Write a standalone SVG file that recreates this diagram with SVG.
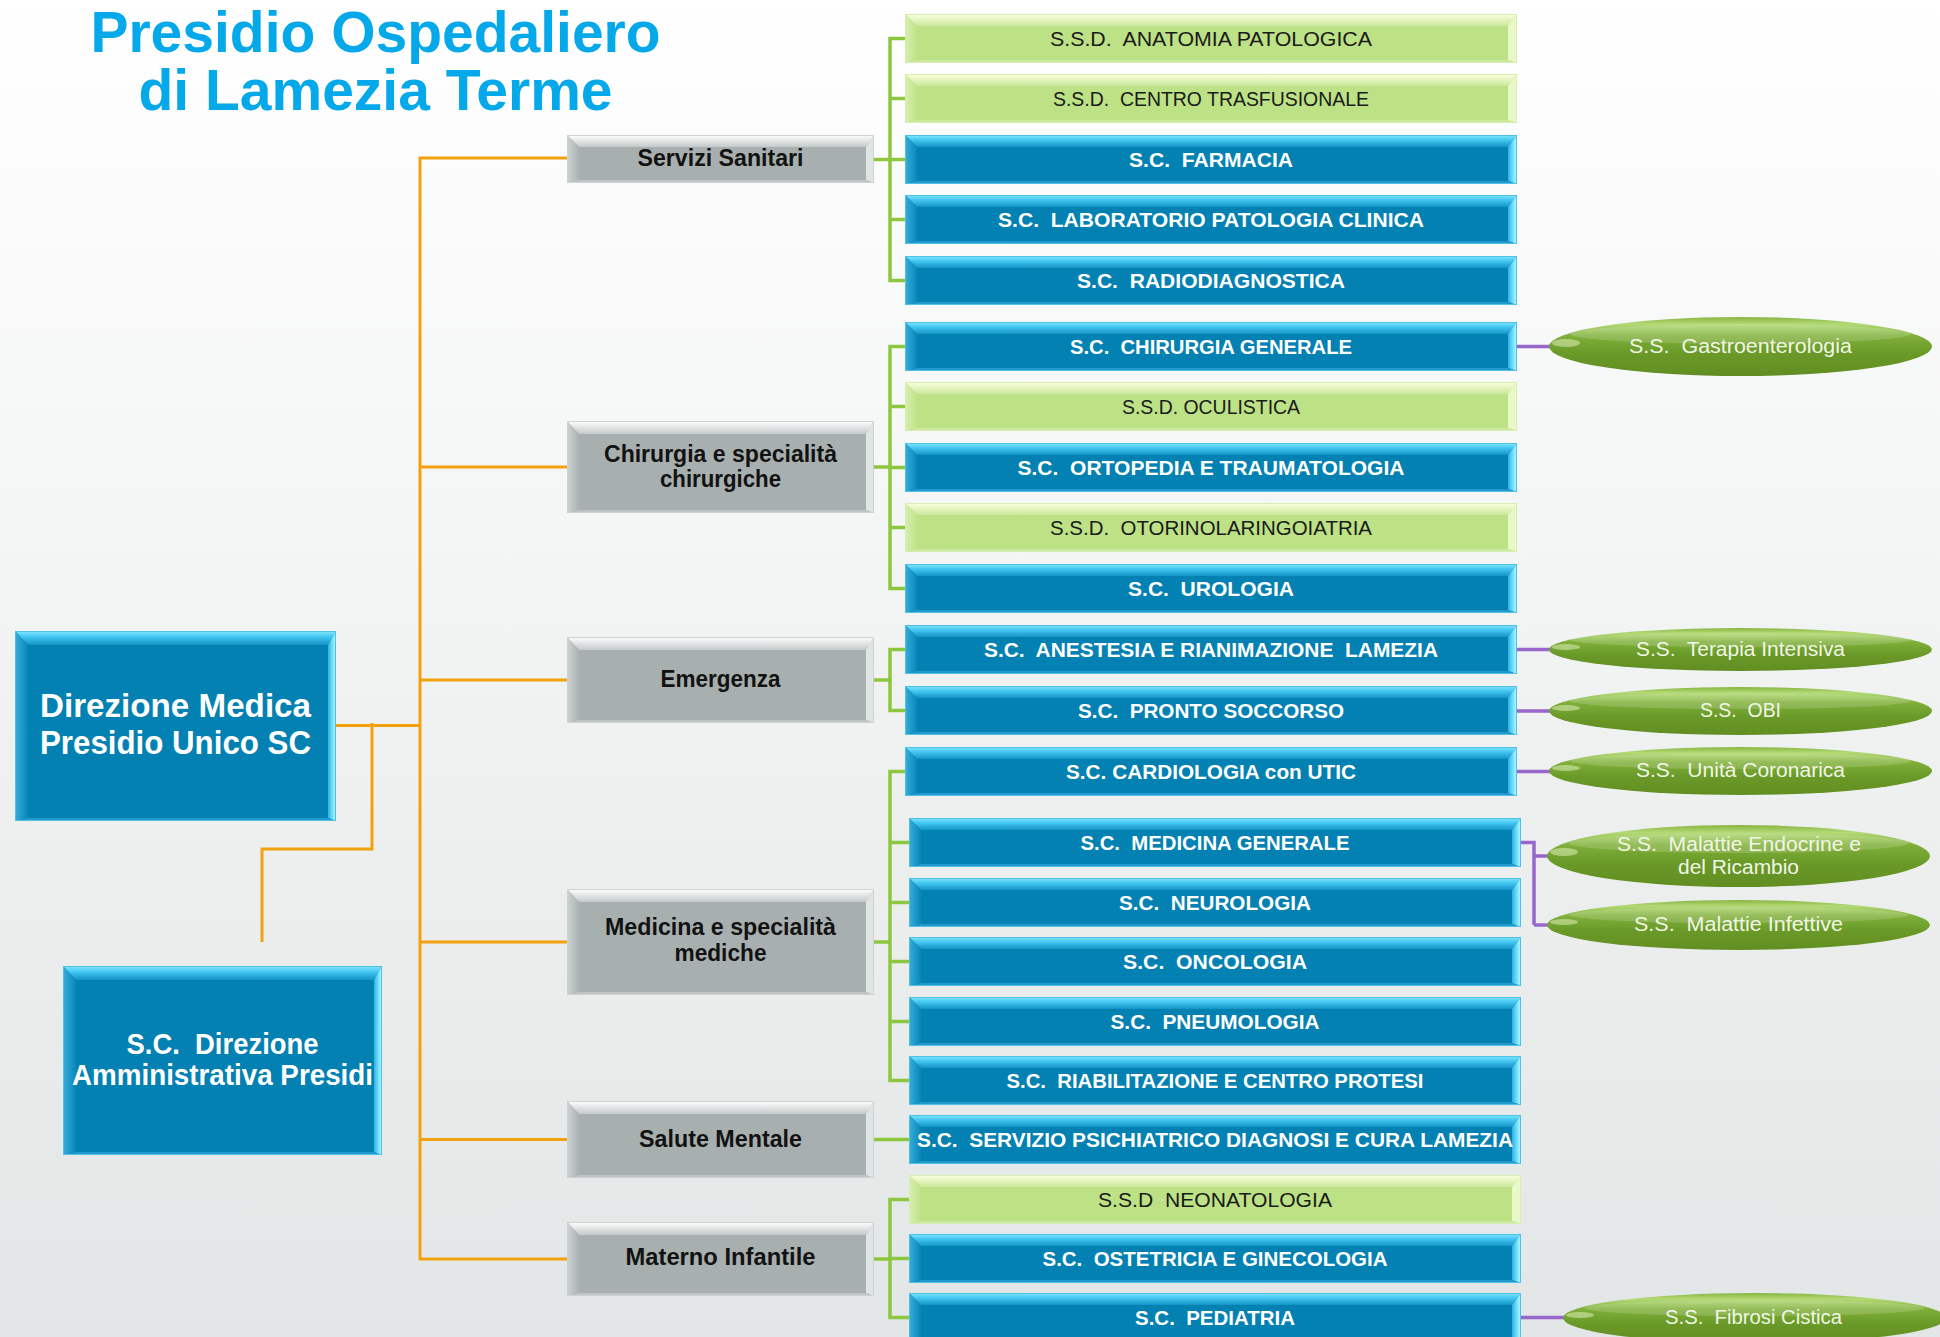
<svg xmlns="http://www.w3.org/2000/svg" xmlns:xlink="http://www.w3.org/1999/xlink" width="1940" height="1337" viewBox="0 0 1940 1337">
<style>
.t{font-family:"Liberation Sans",Arial,sans-serif;text-anchor:middle}
.title{font-size:57px;font-weight:bold;fill:#05a9ea}
.cb{font-size:21px;font-weight:bold;fill:#ffffff}
.cg{font-size:21px;font-weight:normal;fill:#1a1a1a}
.gt{font-size:23px;font-weight:bold;fill:#121212}
.bt{font-size:33px;font-weight:bold;fill:#ffffff}
.at{font-size:30px;font-weight:bold;fill:#ffffff}
.et{font-size:20px;fill:#f1f6e6}
.or{stroke:#f2a20f;stroke-width:3;fill:none}
.gr{stroke:#8dc63f;stroke-width:3.5;fill:none}
.pu{stroke:#9966cc;stroke-width:3.5;fill:none}
.ell{fill:url(#gEll)}
.gloss{fill:#ffffff;opacity:0.16}
.glint{fill:#f4ffd8;opacity:0.45}
</style>
<defs>
<linearGradient id="bg" x1="0" y1="0" x2="0" y2="1"><stop offset="0" stop-color="#ffffff"/><stop offset="1" stop-color="#e3e6e6"/></linearGradient>
<linearGradient id="blT" x1="0" y1="0" x2="0" y2="1"><stop offset="0" stop-color="#86e8ff"/><stop offset="0.4" stop-color="#45c8f2"/><stop offset="1" stop-color="#1394c6"/></linearGradient>
<linearGradient id="blL" x1="0" y1="0" x2="1" y2="0"><stop offset="0" stop-color="#35aedb"/><stop offset="1" stop-color="#0b86b8"/></linearGradient>
<linearGradient id="blR" x1="0" y1="0" x2="1" y2="0"><stop offset="0" stop-color="#2cb2e2"/><stop offset="0.6" stop-color="#7ae3ff"/><stop offset="1" stop-color="#c8f6ff"/></linearGradient>
<linearGradient id="grT" x1="0" y1="0" x2="0" y2="1"><stop offset="0" stop-color="#ffffff"/><stop offset="1" stop-color="#c3c9c9"/></linearGradient>
<linearGradient id="grL" x1="0" y1="0" x2="1" y2="0"><stop offset="0" stop-color="#cdd2d2"/><stop offset="1" stop-color="#abb2b2"/></linearGradient>
<linearGradient id="gnT" x1="0" y1="0" x2="0" y2="1"><stop offset="0" stop-color="#fbffe0"/><stop offset="1" stop-color="#cce89b"/></linearGradient>
<linearGradient id="gnL" x1="0" y1="0" x2="1" y2="0"><stop offset="0" stop-color="#d8efb0"/><stop offset="1" stop-color="#c0e289"/></linearGradient>
<linearGradient id="gEll" x1="0" y1="0" x2="0" y2="1"><stop offset="0" stop-color="#86b43f"/><stop offset="0.12" stop-color="#b3da76"/><stop offset="0.32" stop-color="#80b03a"/><stop offset="0.6" stop-color="#6a9a28"/><stop offset="1" stop-color="#618e22"/></linearGradient>
<symbol id="bBlue" viewBox="0 0 612 49" overflow="visible">
<rect width="612" height="49" fill="#0381b2"/>
<polygon points="0,0 612,0 603,12 12,12" fill="url(#blT)"/>
<polygon points="0,0 12,12 12,46 0,49" fill="url(#blL)"/>
<polygon points="612,0 612,49 603,46 603,12" fill="url(#blR)"/>
<polygon points="0,49 12,46 603,46 612,49" fill="#239acb"/>
<rect x="0.5" y="0.5" width="611" height="48" fill="none" stroke="#4fc0e8" stroke-width="1"/>
</symbol>
<symbol id="bGreen" viewBox="0 0 612 49" overflow="visible">
<rect width="612" height="49" fill="#bde185"/>
<polygon points="0,0 612,0 603,12 12,12" fill="url(#gnT)"/>
<polygon points="0,0 12,12 12,46 0,49" fill="url(#gnL)"/>
<polygon points="612,0 612,49 603,46 603,12" fill="#e8f8c8"/>
<polygon points="0,49 12,46 603,46 612,49" fill="#cde8a0"/>
<rect x="0.5" y="0.5" width="611" height="48" fill="none" stroke="#d6eeae" stroke-width="1"/>
</symbol>
</defs>
<rect width="1940" height="1337" fill="url(#bg)"/>

<g id="title">
<text class="t title"><tspan x="375.5" y="52">Presidio Ospedaliero</tspan><tspan x="375.5" y="110">di Lamezia Terme</tspan></text>
</g>

<g id="connectors">
<path class="or" d="M420 158V1259M418.5 158H567M420 467H567M420 680H567M420 942H567M420 1139.5H567M418.5 1259H567"/>
<path class="or" stroke-width="4" d="M336 725.5H420"/>
<path class="or" d="M372 723V849H262V942"/>
<path class="gr" d="M874 159.5H890M890 36.8V282.2M888.3 38.5H905M890 98.5H905M890 159.5H905M890 219.5H905M888.3 280.5H905"/>
<path class="gr" d="M874 467H890M890 344.8V590.2M888.3 346.5H905M890 406.5H905M890 467.5H905M890 527.5H905M888.3 588.5H905"/>
<path class="gr" d="M874 680H890M890 647.8V712.2M888.3 649.5H905M888.3 710.5H905"/>
<path class="gr" d="M874 942H890M890 769.8V1082.2M888.3 771.5H905M890 842.5H909M890 902.5H909M890 961.5H909M890 1021.5H909M888.3 1080.5H909"/>
<path class="gr" d="M874 1139.5H909"/>
<path class="gr" d="M874 1259H890M890 1197.8V1319.2M888.3 1199.5H909M890 1258.5H909M888.3 1317.5H909"/>
<path class="pu" d="M1517 346.5H1552M1517 649.5H1552M1517 711H1552M1517 771.5H1552M1521 842.5H1534V925M1534 856H1550M1534 925H1550M1521 1317.5H1566"/>
</g>

<g id="n-direzione-medica" transform="translate(15,631)">
<rect width="321" height="190" fill="#0381b2"/>
<polygon points="0,0 321,0 313,14 13,14" fill="url(#blT)"/>
<polygon points="0,0 13,14 13,187 0,190" fill="url(#blL)"/>
<polygon points="321,0 321,190 313,187 313,14" fill="url(#blR)"/>
<polygon points="0,190 13,187 313,187 321,190" fill="#239acb"/>
<rect x="0.5" y="0.5" width="320" height="189" fill="none" stroke="#4fc0e8"/>
<text class="t bt" x="160.5" y="86" textLength="271" lengthAdjust="spacingAndGlyphs">Direzione Medica</text>
<text class="t bt" x="160.5" y="123" textLength="271" lengthAdjust="spacingAndGlyphs">Presidio Unico SC</text>
</g>

<g id="n-direzione-amministrativa" transform="translate(63,966)">
<rect width="319" height="189" fill="#0381b2"/>
<polygon points="0,0 319,0 311,14 13,14" fill="url(#blT)"/>
<polygon points="0,0 13,14 13,186 0,189" fill="url(#blL)"/>
<polygon points="319,0 319,189 311,186 311,14" fill="url(#blR)"/>
<polygon points="0,189 13,186 311,186 319,189" fill="#239acb"/>
<rect x="0.5" y="0.5" width="318" height="188" fill="none" stroke="#4fc0e8"/>
<text class="t at" x="159.5" y="88" textLength="192" lengthAdjust="spacingAndGlyphs">S.C.&#160; Direzione</text>
<text class="t at" x="159.5" y="119" textLength="301" lengthAdjust="spacingAndGlyphs">Amministrativa Presidi</text>
</g>

<g id="n-servizi-sanitari" transform="translate(567,135)">
<rect width="307" height="48" fill="#a8afaf"/>
<polygon points="0,0 307,0 299,12 12,12" fill="url(#grT)"/>
<polygon points="0,0 12,12 12,45 0,48" fill="url(#grL)"/>
<polygon points="307,0 307,48 299,45 299,12" fill="#dfe4e4"/>
<polygon points="0,48 12,45 299,45 307,48" fill="#bfc5c5"/>
<rect x="0.5" y="0.5" width="306" height="47" fill="none" stroke="#cdd2d2"/>
<text class="t gt" x="153.5" y="31" textLength="166" lengthAdjust="spacingAndGlyphs">Servizi Sanitari</text>
</g>

<g id="n-chirurgia" transform="translate(567,421)">
<rect width="307" height="92" fill="#a8afaf"/>
<polygon points="0,0 307,0 299,13 12,13" fill="url(#grT)"/>
<polygon points="0,0 12,13 12,89 0,92" fill="url(#grL)"/>
<polygon points="307,0 307,92 299,89 299,13" fill="#dfe4e4"/>
<polygon points="0,92 12,89 299,89 307,92" fill="#bfc5c5"/>
<rect x="0.5" y="0.5" width="306" height="91" fill="none" stroke="#cdd2d2"/>
<text class="t gt" x="153.5" y="41" textLength="233" lengthAdjust="spacingAndGlyphs">Chirurgia e specialità</text>
<text class="t gt" x="153.5" y="66" textLength="121" lengthAdjust="spacingAndGlyphs">chirurgiche</text>
</g>

<g id="n-emergenza" transform="translate(567,637)">
<rect width="307" height="86" fill="#a8afaf"/>
<polygon points="0,0 307,0 299,13 12,13" fill="url(#grT)"/>
<polygon points="0,0 12,13 12,83 0,86" fill="url(#grL)"/>
<polygon points="307,0 307,86 299,83 299,13" fill="#dfe4e4"/>
<polygon points="0,86 12,83 299,83 307,86" fill="#bfc5c5"/>
<rect x="0.5" y="0.5" width="306" height="85" fill="none" stroke="#cdd2d2"/>
<text class="t gt" x="153.5" y="50" textLength="120" lengthAdjust="spacingAndGlyphs">Emergenza</text>
</g>

<g id="n-medicina" transform="translate(567,889)">
<rect width="307" height="106" fill="#a8afaf"/>
<polygon points="0,0 307,0 299,13 12,13" fill="url(#grT)"/>
<polygon points="0,0 12,13 12,103 0,106" fill="url(#grL)"/>
<polygon points="307,0 307,106 299,103 299,13" fill="#dfe4e4"/>
<polygon points="0,106 12,103 299,103 307,106" fill="#bfc5c5"/>
<rect x="0.5" y="0.5" width="306" height="105" fill="none" stroke="#cdd2d2"/>
<text class="t gt" x="153.5" y="46" textLength="231" lengthAdjust="spacingAndGlyphs">Medicina e specialità</text>
<text class="t gt" x="153.5" y="72" textLength="92" lengthAdjust="spacingAndGlyphs">mediche</text>
</g>

<g id="n-salute-mentale" transform="translate(567,1101)">
<rect width="307" height="77" fill="#a8afaf"/>
<polygon points="0,0 307,0 299,13 12,13" fill="url(#grT)"/>
<polygon points="0,0 12,13 12,74 0,77" fill="url(#grL)"/>
<polygon points="307,0 307,77 299,74 299,13" fill="#dfe4e4"/>
<polygon points="0,77 12,74 299,74 307,77" fill="#bfc5c5"/>
<rect x="0.5" y="0.5" width="306" height="76" fill="none" stroke="#cdd2d2"/>
<text class="t gt" x="153.5" y="46" textLength="163" lengthAdjust="spacingAndGlyphs">Salute Mentale</text>
</g>

<g id="n-materno-infantile" transform="translate(567,1222)">
<rect width="307" height="74" fill="#a8afaf"/>
<polygon points="0,0 307,0 299,13 12,13" fill="url(#grT)"/>
<polygon points="0,0 12,13 12,71 0,74" fill="url(#grL)"/>
<polygon points="307,0 307,74 299,71 299,13" fill="#dfe4e4"/>
<polygon points="0,74 12,71 299,71 307,74" fill="#bfc5c5"/>
<rect x="0.5" y="0.5" width="306" height="73" fill="none" stroke="#cdd2d2"/>
<text class="t gt" x="153.5" y="43" textLength="190" lengthAdjust="spacingAndGlyphs">Materno Infantile</text>
</g>

<g id="n-anatomia"><use href="#bGreen" x="905" y="14" width="612" height="49"/><text class="t cg" x="1211" y="45.5" textLength="322" lengthAdjust="spacingAndGlyphs">S.S.D.&#160; ANATOMIA PATOLOGICA</text></g>
<g id="n-centro-trasf"><use href="#bGreen" x="905" y="74" width="612" height="49"/><text class="t cg" x="1211" y="105.5" textLength="316" lengthAdjust="spacingAndGlyphs">S.S.D.&#160; CENTRO TRASFUSIONALE</text></g>
<g id="n-farmacia"><use href="#bBlue" x="905" y="135" width="612" height="49"/><text class="t cb" x="1211" y="166.5" textLength="164" lengthAdjust="spacingAndGlyphs">S.C.&#160; FARMACIA</text></g>
<g id="n-laboratorio"><use href="#bBlue" x="905" y="195" width="612" height="49"/><text class="t cb" x="1211" y="226.5" textLength="426" lengthAdjust="spacingAndGlyphs">S.C.&#160; LABORATORIO PATOLOGIA CLINICA</text></g>
<g id="n-radiodiagnostica"><use href="#bBlue" x="905" y="256" width="612" height="49"/><text class="t cb" x="1211" y="287.5" textLength="268" lengthAdjust="spacingAndGlyphs">S.C.&#160; RADIODIAGNOSTICA</text></g>
<g id="n-chirurgia-generale"><use href="#bBlue" x="905" y="322" width="612" height="49"/><text class="t cb" x="1211" y="353.5" textLength="282" lengthAdjust="spacingAndGlyphs">S.C.&#160; CHIRURGIA GENERALE</text></g>
<g id="n-oculistica"><use href="#bGreen" x="905" y="382" width="612" height="49"/><text class="t cg" x="1211" y="413.5" textLength="178" lengthAdjust="spacingAndGlyphs">S.S.D. OCULISTICA</text></g>
<g id="n-ortopedia"><use href="#bBlue" x="905" y="443" width="612" height="49"/><text class="t cb" x="1211" y="474.5" textLength="387" lengthAdjust="spacingAndGlyphs">S.C.&#160; ORTOPEDIA E TRAUMATOLOGIA</text></g>
<g id="n-otorino"><use href="#bGreen" x="905" y="503" width="612" height="49"/><text class="t cg" x="1211" y="534.5" textLength="322" lengthAdjust="spacingAndGlyphs">S.S.D.&#160; OTORINOLARINGOIATRIA</text></g>
<g id="n-urologia"><use href="#bBlue" x="905" y="564" width="612" height="49"/><text class="t cb" x="1211" y="595.5" textLength="166" lengthAdjust="spacingAndGlyphs">S.C.&#160; UROLOGIA</text></g>
<g id="n-anestesia"><use href="#bBlue" x="905" y="625" width="612" height="49"/><text class="t cb" x="1211" y="656.5" textLength="454" lengthAdjust="spacingAndGlyphs">S.C.&#160; ANESTESIA E RIANIMAZIONE&#160; LAMEZIA</text></g>
<g id="n-pronto-soccorso"><use href="#bBlue" x="905" y="686" width="612" height="49"/><text class="t cb" x="1211" y="717.5" textLength="266" lengthAdjust="spacingAndGlyphs">S.C.&#160; PRONTO SOCCORSO</text></g>
<g id="n-cardiologia"><use href="#bBlue" x="905" y="747" width="612" height="49"/><text class="t cb" x="1211" y="778.5" textLength="290" lengthAdjust="spacingAndGlyphs">S.C. CARDIOLOGIA con UTIC</text></g>
<g id="n-medicina-generale"><use href="#bBlue" x="909" y="818" width="612" height="49"/><text class="t cb" x="1215" y="849.5" textLength="269" lengthAdjust="spacingAndGlyphs">S.C.&#160; MEDICINA GENERALE</text></g>
<g id="n-neurologia"><use href="#bBlue" x="909" y="878" width="612" height="49"/><text class="t cb" x="1215" y="909.5" textLength="192" lengthAdjust="spacingAndGlyphs">S.C.&#160; NEUROLOGIA</text></g>
<g id="n-oncologia"><use href="#bBlue" x="909" y="937" width="612" height="49"/><text class="t cb" x="1215" y="968.5" textLength="184" lengthAdjust="spacingAndGlyphs">S.C.&#160; ONCOLOGIA</text></g>
<g id="n-pneumologia"><use href="#bBlue" x="909" y="997" width="612" height="49"/><text class="t cb" x="1215" y="1028.5" textLength="209" lengthAdjust="spacingAndGlyphs">S.C.&#160; PNEUMOLOGIA</text></g>
<g id="n-riabilitazione"><use href="#bBlue" x="909" y="1056" width="612" height="49"/><text class="t cb" x="1215" y="1087.5" textLength="417" lengthAdjust="spacingAndGlyphs">S.C.&#160; RIABILITAZIONE E CENTRO PROTESI</text></g>
<g id="n-spdc"><use href="#bBlue" x="909" y="1115" width="612" height="49"/><text class="t cb" x="1215" y="1146.5" textLength="596" lengthAdjust="spacingAndGlyphs">S.C.&#160; SERVIZIO PSICHIATRICO DIAGNOSI E CURA LAMEZIA</text></g>
<g id="n-neonatologia"><use href="#bGreen" x="909" y="1175" width="612" height="49"/><text class="t cg" x="1215" y="1206.5" textLength="234" lengthAdjust="spacingAndGlyphs">S.S.D&#160; NEONATOLOGIA</text></g>
<g id="n-ostetricia"><use href="#bBlue" x="909" y="1234" width="612" height="49"/><text class="t cb" x="1215" y="1265.5" textLength="345" lengthAdjust="spacingAndGlyphs">S.C.&#160; OSTETRICIA E GINECOLOGIA</text></g>
<g id="n-pediatria"><use href="#bBlue" x="909" y="1293" width="612" height="49"/><text class="t cb" x="1215" y="1324.5" textLength="160" lengthAdjust="spacingAndGlyphs">S.C.&#160; PEDIATRIA</text></g>

<g id="e-gastro"><ellipse class="ell" cx="1740.5" cy="346.5" rx="191.5" ry="29.5"/><ellipse class="gloss" cx="1740.5" cy="334" rx="170" ry="10"/><ellipse class="glint" cx="1566" cy="343" rx="14" ry="4"/><text class="t et" x="1740.5" y="353" textLength="223" lengthAdjust="spacingAndGlyphs">S.S.&#160; Gastroenterologia</text></g>
<g id="e-terapia"><ellipse class="ell" cx="1740.5" cy="649.5" rx="191.5" ry="21.5"/><ellipse class="gloss" cx="1740.5" cy="640" rx="170" ry="7"/><ellipse class="glint" cx="1566" cy="647" rx="14" ry="3"/><text class="t et" x="1740.5" y="655.5" textLength="209" lengthAdjust="spacingAndGlyphs">S.S.&#160; Terapia Intensiva</text></g>
<g id="e-obi"><ellipse class="ell" cx="1740.5" cy="711" rx="191.5" ry="24"/><ellipse class="gloss" cx="1740.5" cy="701" rx="170" ry="8"/><ellipse class="glint" cx="1566" cy="708" rx="14" ry="3"/><text class="t et" x="1740.5" y="717" textLength="81" lengthAdjust="spacingAndGlyphs">S.S.&#160; OBI</text></g>
<g id="e-unita-coronarica"><ellipse class="ell" cx="1740.5" cy="771" rx="191.5" ry="24"/><ellipse class="gloss" cx="1740.5" cy="761" rx="170" ry="8"/><ellipse class="glint" cx="1566" cy="768" rx="14" ry="3"/><text class="t et" x="1740.5" y="777" textLength="209" lengthAdjust="spacingAndGlyphs">S.S.&#160; Unità Coronarica</text></g>
<g id="e-endocrine"><ellipse class="ell" cx="1738.5" cy="856" rx="191.5" ry="31"/><ellipse class="gloss" cx="1738.5" cy="843" rx="170" ry="10"/><ellipse class="glint" cx="1564" cy="852" rx="14" ry="4"/><text class="t et" x="1739" y="851" textLength="244" lengthAdjust="spacingAndGlyphs">S.S.&#160; Malattie Endocrine e</text><text class="t et" x="1738.5" y="874" textLength="121" lengthAdjust="spacingAndGlyphs">del Ricambio</text></g>
<g id="e-infettive"><ellipse class="ell" cx="1738.5" cy="925" rx="191.5" ry="25"/><ellipse class="gloss" cx="1738.5" cy="915" rx="170" ry="8"/><ellipse class="glint" cx="1564" cy="922" rx="14" ry="3"/><text class="t et" x="1738.5" y="930.5" textLength="209" lengthAdjust="spacingAndGlyphs">S.S.&#160; Malattie Infettive</text></g>
<g id="e-fibrosi"><ellipse class="ell" cx="1754.5" cy="1318" rx="191.5" ry="25"/><ellipse class="gloss" cx="1754.5" cy="1308" rx="170" ry="8"/><ellipse class="glint" cx="1580" cy="1315" rx="14" ry="3"/><text class="t et" x="1753.5" y="1324" textLength="177" lengthAdjust="spacingAndGlyphs">S.S.&#160; Fibrosi Cistica</text></g>
</svg>
